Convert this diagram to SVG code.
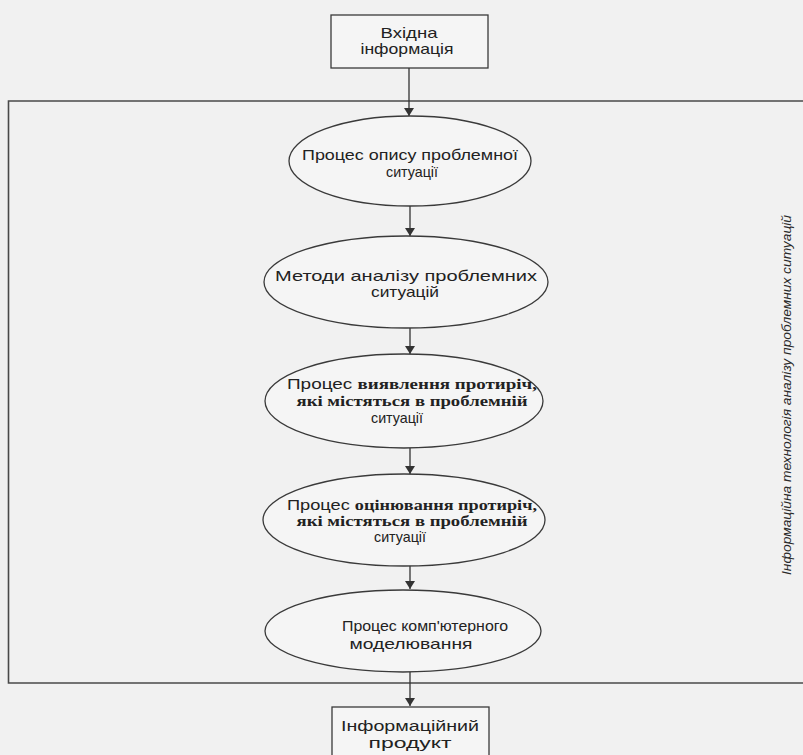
<svg xmlns="http://www.w3.org/2000/svg" width="803" height="755" viewBox="0 0 803 755">
<style>
.bg{fill:#f1f1f1}
.frame{fill:none;stroke:#4a4a4a;stroke-width:1.6}
.box{fill:#f5f5f5;stroke:#3a3a3a;stroke-width:1.3}
.ell{fill:#f5f5f5;stroke:#3a3a3a;stroke-width:1.3}
.t{font-family:"Liberation Sans",Arial,sans-serif;font-size:15px;fill:#222;text-anchor:middle}
.s{font-family:"Liberation Serif","Times New Roman",serif;font-weight:bold}
.conn{stroke:#333;stroke-width:1.3;fill:none}
.side{font-family:"Liberation Sans",Arial,sans-serif;font-style:italic;font-size:13px;fill:#2a2a2a;text-anchor:middle}
</style>
<defs>
<marker id="ah" viewBox="0 0 8 10" refX="8" refY="5" markerWidth="8" markerHeight="10" markerUnits="userSpaceOnUse" orient="auto">
<path d="M0,0 L8,5 L0,10 z" fill="#333"/>
</marker>
</defs>
<rect class="bg" x="0" y="0" width="803" height="755"/>
<path class="frame" d="M803,101 H8.5 V683 H803"/>
<g id="connectors">
<line class="conn" x1="409" y1="68" x2="409" y2="116" marker-end="url(#ah)"/>
<line class="conn" x1="410" y1="205" x2="410" y2="236" marker-end="url(#ah)"/>
<line class="conn" x1="410" y1="328" x2="410" y2="354" marker-end="url(#ah)"/>
<line class="conn" x1="410" y1="448" x2="410" y2="474" marker-end="url(#ah)"/>
<line class="conn" x1="410" y1="565" x2="410" y2="589" marker-end="url(#ah)"/>
<line class="conn" x1="410" y1="672" x2="410" y2="706" marker-end="url(#ah)"/>
</g>
<g id="input">
<rect class="box" x="331" y="15" width="157" height="53"/>
<text class="t" x="409" y="38" textLength="57" lengthAdjust="spacingAndGlyphs">Вхідна</text>
<text class="t" x="407" y="54" textLength="93" lengthAdjust="spacingAndGlyphs">інформація</text>
</g>
<g id="describe">
<ellipse class="ell" cx="410" cy="161" rx="121" ry="45"/>
<text class="t" x="410" y="160" textLength="216" lengthAdjust="spacingAndGlyphs">Процес опису проблемної</text>
<text class="t" x="412" y="177" textLength="52" lengthAdjust="spacingAndGlyphs">ситуації</text>
</g>
<g id="methods">
<ellipse class="ell" cx="406" cy="282" rx="142" ry="46"/>
<text class="t" x="406" y="281" textLength="262" lengthAdjust="spacingAndGlyphs">Методи аналізу проблемних</text>
<text class="t" x="405" y="297" textLength="68" lengthAdjust="spacingAndGlyphs">ситуацій</text>
</g>
<g id="detect">
<ellipse class="ell" cx="404" cy="401" rx="139" ry="47"/>
<text class="t" x="412" y="389" textLength="250" lengthAdjust="spacingAndGlyphs">Процес <tspan class="s">виявлення  протиріч,</tspan></text>
<text class="t s" x="412" y="406" textLength="231" lengthAdjust="spacingAndGlyphs">які містяться в проблемній</text>
<text class="t" x="397" y="423" textLength="52" lengthAdjust="spacingAndGlyphs">ситуації</text>
</g>
<g id="evaluate">
<ellipse class="ell" cx="404" cy="520" rx="141" ry="46"/>
<text class="t" x="412" y="510" textLength="250" lengthAdjust="spacingAndGlyphs">Процес <tspan class="s">оцінювання протиріч,</tspan></text>
<text class="t s" x="412" y="526" textLength="231" lengthAdjust="spacingAndGlyphs">які містяться в проблемній</text>
<text class="t" x="400" y="542" textLength="52" lengthAdjust="spacingAndGlyphs">ситуації</text>
</g>
<g id="modeling">
<ellipse class="ell" cx="403" cy="631" rx="138" ry="41"/>
<text class="t" x="425" y="631" textLength="166" lengthAdjust="spacingAndGlyphs">Процес комп'ютерного</text>
<text class="t" x="411" y="649" textLength="123" lengthAdjust="spacingAndGlyphs">моделювання</text>
</g>
<g id="output">
<rect class="box" x="332" y="707" width="157" height="50"/>
<text class="t" x="410" y="731" textLength="138" lengthAdjust="spacingAndGlyphs">Інформаційний</text>
<text class="t" x="410" y="748" textLength="83" lengthAdjust="spacingAndGlyphs">продукт</text>
</g>
<g id="side-label">
<text class="side" transform="translate(791,395) rotate(-90)" textLength="360" lengthAdjust="spacingAndGlyphs">Інформаційна технологія аналізу проблемних ситуацій</text>
</g>
</svg>
